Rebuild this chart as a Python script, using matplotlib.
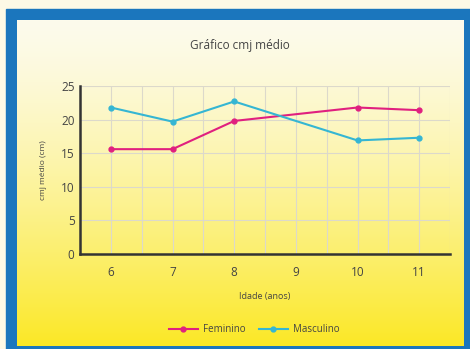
import numpy as np
import matplotlib
matplotlib.use("Agg")
import matplotlib.pyplot as plt
from matplotlib.patches import Rectangle

plt.rcParams['font.family'] = ['Open Sans', 'DejaVu Sans']

idades = [6, 7, 8, 10, 11]
feminino = [15.6, 15.6, 19.8, 21.8, 21.4]
masculino = [21.8, 19.7, 22.7, 16.9, 17.3]
x_ticks = [6, 7, 8, 9, 10, 11]
y_ticks = [0, 5, 10, 15, 20, 25]

cor_fem = "#e0207f"
cor_masc = "#35b6d3"
cor_texto = "#444444"

W, H = 470, 349
fig = plt.figure(figsize=(W / 100, H / 100), dpi=100)

# moldura: fundo creme, borda azul e painel com degradê creme -> amarelo
bg = fig.add_axes([0, 0, 1, 1], zorder=-1)
bg.axis("off")
bg.add_patch(Rectangle((0, 0), W, H, color="#fdf9e6", zorder=0))
bg.add_patch(Rectangle((6, 9), W - 6, H - 9, color="#1b76bd", zorder=1))
t = np.linspace(0, 1, 256) ** 1.35
top = np.array([253, 251, 236]) / 255
bottom = np.array([251, 232, 38]) / 255
grad = top[None, :] * (1 - t[:, None]) + bottom[None, :] * t[:, None]
bg.imshow(grad[:, None, :], extent=(17, 464, 346, 20), aspect="auto", zorder=2)
bg.set_xlim(0, W)
bg.set_ylim(H, 0)

ax = fig.add_axes([80 / W, 1 - 254 / H, 370 / W, 168 / H])
ax.set_facecolor("none")

ax.plot(idades, feminino, color=cor_fem, lw=1.5, marker="o", ms=3.5, label="Feminino")
ax.plot(idades, masculino, color=cor_masc, lw=1.5, marker="o", ms=3.5, label="Masculino")

ax.set_xlim(5.5, 11.5)
ax.set_ylim(0, 25)
ax.set_xticks(x_ticks)
ax.set_yticks(y_ticks)
ax.set_xticks(np.arange(5.5, 11.6, 0.5), minor=True)
ax.grid(True, which="both", axis="x", color="#dcd9cb", lw=0.8)
ax.grid(True, which="major", axis="y", color="#dcd9cb", lw=0.8)
ax.set_axisbelow(True)
ax.tick_params(which="both", length=0)
ax.tick_params(axis="x", labelsize=8.5, colors=cor_texto, pad=9)
ax.tick_params(axis="y", labelsize=8.5, colors=cor_texto, pad=4)

for s in ["top", "right"]:
    ax.spines[s].set_visible(False)
for s in ["left", "bottom"]:
    ax.spines[s].set_color("#333333")
    ax.spines[s].set_linewidth(1.8)

ax.set_xlabel("Idade (anos)", fontsize=6.5, color=cor_texto, labelpad=9)
ax.set_ylabel("cmj médio (cm)", fontsize=6, color=cor_texto, labelpad=10)
fig.text(240 / W, 1 - 45 / H, "Gráfico cmj médio", ha="center", va="center",
         fontsize=8.5, color=cor_texto)

fig.legend(loc="center", bbox_to_anchor=(254 / W, 1 - 330 / H), ncol=2,
           frameon=False, fontsize=7, labelcolor=cor_texto,
           handlelength=3, columnspacing=1.4, handletextpad=0.5)

fig.savefig("out.png", dpi=100)
